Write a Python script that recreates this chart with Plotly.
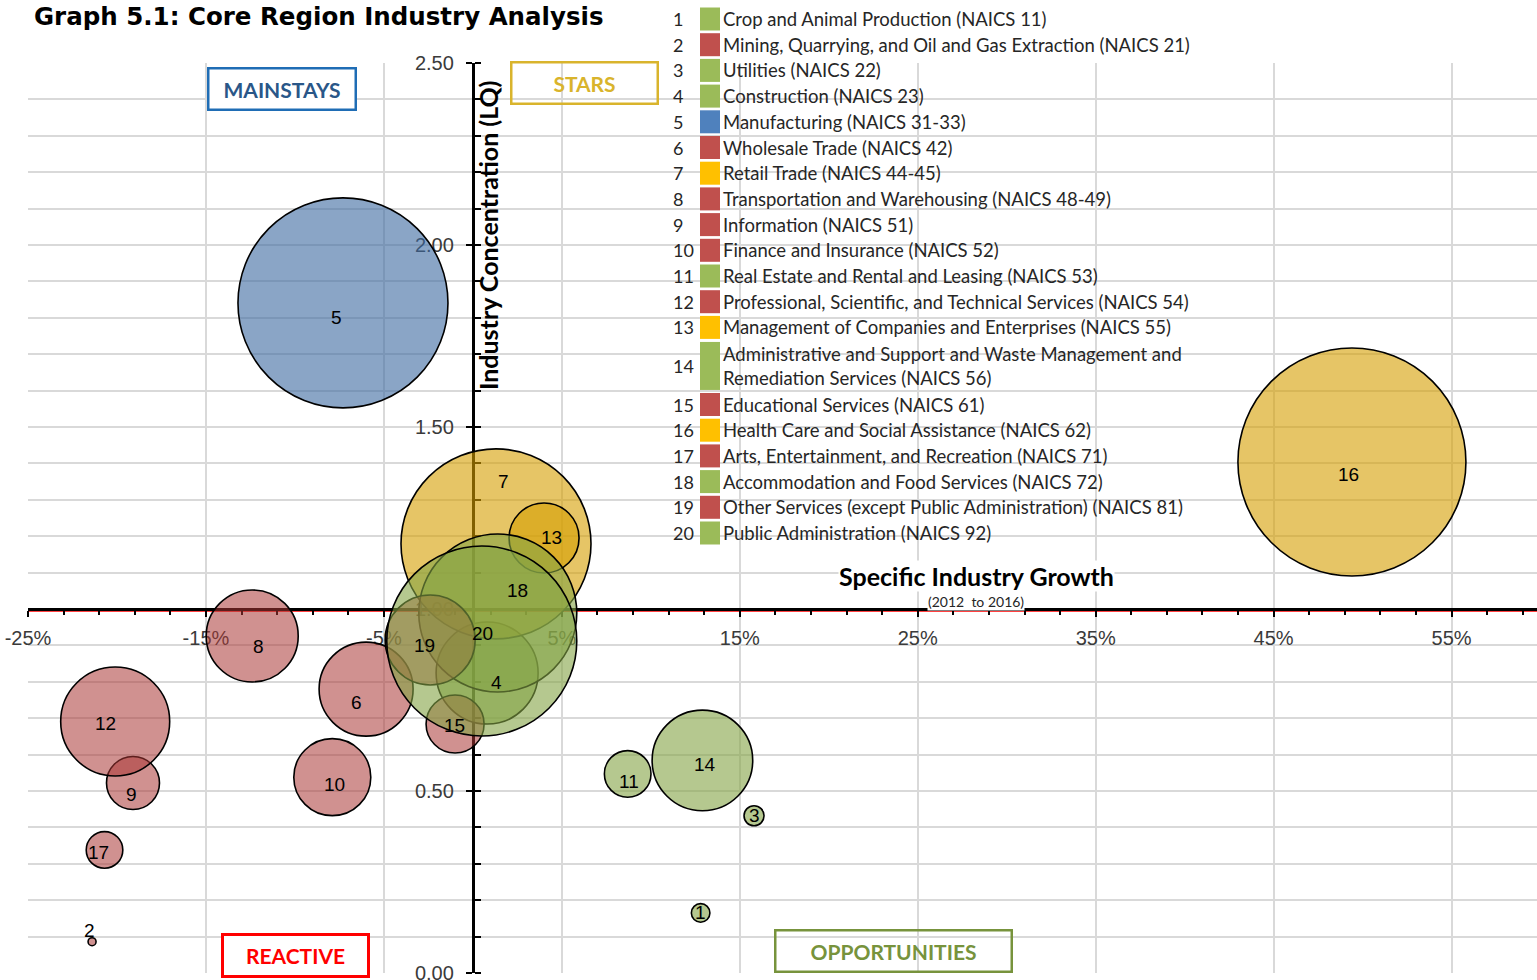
import plotly.graph_objects as go

# ---------------- data ----------------
industry_no = list(range(1, 21))
industries = [
    "Crop and Animal Production (NAICS 11)",
    "Mining, Quarrying, and Oil and Gas Extraction (NAICS 21)",
    "Utilities (NAICS 22)",
    "Construction (NAICS 23)",
    "Manufacturing (NAICS 31-33)",
    "Wholesale Trade (NAICS 42)",
    "Retail Trade (NAICS 44-45)",
    "Transportation and Warehousing (NAICS 48-49)",
    "Information (NAICS 51)",
    "Finance and Insurance (NAICS 52)",
    "Real Estate and Rental and Leasing (NAICS 53)",
    "Professional, Scientific, and Technical Services (NAICS 54)",
    "Management of Companies and Enterprises (NAICS 55)",
    "Administrative and Support and Waste Management and<br>Remediation Services (NAICS 56)",
    "Educational Services (NAICS 61)",
    "Health Care and Social Assistance (NAICS 62)",
    "Arts, Entertainment, and Recreation (NAICS 71)",
    "Accommodation and Food Services (NAICS 72)",
    "Other Services (except Public Administration) (NAICS 81)",
    "Public Administration (NAICS 92)",
]
# specific industry growth 2012-2016 (%)
growth_pct = [12.8, -21.4, 15.8, 0.8, -7.3, -6.0, 1.3, -12.4, -19.1, -7.9,
              8.7, -20.1, 4.0, 12.9, -1.0, 49.4, -20.7, 1.4, -2.4, 0.5]
# industry concentration (location quotient)
lq = [0.165, 0.086, 0.432, 0.824, 1.841, 0.780, 1.179, 0.926, 0.522, 0.538,
      0.547, 0.691, 1.195, 0.584, 0.684, 1.404, 0.338, 0.989, 0.915, 0.912]
# relative industry size (bubble area)
bubble_size = [86, 16, 100, 2601, 11025, 2209, 9025, 2116, 702, 1482,
               543, 2970, 1225, 2530, 841, 12996, 335, 6241, 2025, 9025]
quadrant = ["opp", "react", "opp", "opp", "main", "react", "star", "react", "react", "react",
            "opp", "react", "star", "opp", "react", "star", "react", "opp", "react", "opp"]

x_tickvals = [-25, -15, -5, 5, 15, 25, 35, 45, 55]
x_ticktext = ["-25%", "-15%", "-5%", "5%", "15%", "25%", "35%", "45%", "55%"]
y_tickvals = [0, 0.5, 1.0, 1.5, 2.0, 2.5]
y_ticktext = ["0.00", "0.50", "1.00", "1.50", "2.00", "2.50"]

# ---------------- styles ----------------
fill_colors = {"star": "rgba(214,158,0,0.6)", "opp": "rgba(132,163,68,0.6)",
               "react": "rgba(170,55,52,0.55)", "main": "rgba(60,105,160,0.6)"}
swatch_colors = {"star": "#FFC000", "opp": "#9BBB59", "react": "#C0504D", "main": "#4F81BD"}
# label pixel offsets relative to bubble centre (right, down)
label_dx = [0, -3, 0, 9, -6, -10, 7, 6, -1, 2, 1, -10, 7, 3, -1, -3, -6, 20, -6, 1]
label_dy = [0, -11, 0, 9, 15, 13, -62, 11, 12, 7, 8, 2, -1, 4, 1, 13, 3, -23, 6, -8]

W_PX, H_PX = 1537, 980
# plot area in page pixels
L, R, T, B = 28, 1537, 63, 973
X_RANGE = [-25, 59.8]
Y_RANGE = [0, 2.5]


def px(x):
    return (x - L) / (R - L)


def py(y):
    return (B - y) / (B - T)


fig = go.Figure()
fig.add_trace(go.Scatter(
    x=growth_pct, y=lq, mode="markers",
    marker=dict(size=bubble_size, sizemode="area", sizeref=0.5, opacity=1,
                color=[fill_colors[q] for q in quadrant],
                line=dict(color="black", width=1.6)),
    text=industries, hoverinfo="text+x+y", cliponaxis=False, showlegend=False,
))

annotations = []
for i, n in enumerate(industry_no):
    annotations.append(dict(x=growth_pct[i], y=lq[i], xref="x", yref="y", text=str(n),
                            showarrow=False, xanchor="center", yanchor="middle",
                            xshift=label_dx[i], yshift=-label_dy[i],
                            font=dict(family="Liberation Sans, Arial", size=19, color="black")))

shapes = []
# legend white panel
shapes.append(dict(type="rect", xref="paper", yref="paper", x0=px(670), x1=px(1222),
                   y0=py(547), y1=py(0), fillcolor="white", line=dict(width=0), layer="between"))
# LQ = 1 reference line
shapes.append(dict(type="line", xref="paper", x0=0, x1=1, yref="y", ysizemode="pixel",
                   yanchor=1.0, y0=-2, y1=-2, line=dict(color="red", width=1.5), layer="between"))

# legend rows
row0, step = 19, 25.7
for i, n in enumerate(industry_no):
    if n <= 13:
        k = n - 1
        half = 11.5
    elif n == 14:
        k = 13.5
        half = 24
    else:
        k = n
        half = 11.5
    yc = row0 + step * k
    shapes.append(dict(type="rect", xref="paper", yref="paper", x0=px(700), x1=px(720),
                       y0=py(yc + half), y1=py(yc - half),
                       fillcolor=swatch_colors[quadrant[i]], line=dict(width=0), layer="above"))
    annotations.append(dict(x=px(671), y=py(yc), xref="paper", yref="paper", text=str(n),
                            xanchor="left", yanchor="middle", showarrow=False,
                            font=dict(family="Lato", size=18, color="#262626")))
    annotations.append(dict(x=px(721), y=py(yc), xref="paper", yref="paper", text=industries[i],
                            xanchor="left", yanchor="middle", showarrow=False, align="left",
                            font=dict(family="Lato", size=18.5, color="#262626")))

# title
annotations.append(dict(x=px(33), y=py(1), xref="paper", yref="paper",
                        text="<b>Graph 5.1: Core Region Industry Analysis</b>",
                        xanchor="left", yanchor="top", showarrow=False, borderpad=0,
                        font=dict(family="DejaVu Sans", size=24.5, color="black")))
# axis titles
annotations.append(dict(x=px(976), y=py(576), xref="paper", yref="paper",
                        text="<b>Specific Industry Growth</b>", showarrow=False,
                        xanchor="center", yanchor="middle",
                        bgcolor="white", borderpad=0,
                        font=dict(family="Lato", size=25, color="black")))
annotations.append(dict(x=px(976), y=py(601), xref="paper", yref="paper",
                        text="(2012  to 2016)", showarrow=False, bgcolor="white", borderpad=0,
                        xanchor="center", yanchor="middle",
                        font=dict(family="Lato", size=14, color="#262626")))
annotations.append(dict(x=px(488), y=py(236), xref="paper", yref="paper",
                        text="<b>Industry Concentration (LQ)</b>", showarrow=False, textangle=-90,
                        xanchor="center", yanchor="middle",
                        font=dict(family="Lato", size=25, color="black")))

# quadrant boxes
boxes = [
    ("MAINSTAYS", 282, 89, 150, 44, "#2A5788", "#1F6DB5", 2.5, "white"),
    ("STARS", 584.5, 83, 149, 44, "#D9B42C", "#D9B42C", 2.5, "rgba(0,0,0,0)"),
    ("REACTIVE", 295.5, 955, 149, 45, "#FF0000", "#FF0000", 3, "white"),
    ("OPPORTUNITIES", 893.5, 951, 239, 44, "#77933C", "#77933C", 2.5, "rgba(0,0,0,0)"),
]
for txt, cx, cy, w, h, tc, bc, bw, bg in boxes:
    annotations.append(dict(x=px(cx), y=py(cy), xref="paper", yref="paper",
                            text="<b>" + txt + "</b>", showarrow=False,
                            xanchor="center", yanchor="middle",
                            width=w - 2 * bw, height=h - 2 * bw, borderpad=0,
                            bordercolor=bc, borderwidth=bw, bgcolor=bg,
                            font=dict(family="Lato", size=21, color=tc)))

fig.update_layout(
    width=W_PX, height=H_PX,
    margin=dict(l=L, r=W_PX - R, t=T, b=H_PX - B, pad=0, autoexpand=False),
    paper_bgcolor="white", plot_bgcolor="white",
    showlegend=False,
    xaxis=dict(range=X_RANGE, anchor="free",
               position=(1.0 - Y_RANGE[0]) / (Y_RANGE[1] - Y_RANGE[0]),
               showline=True, linecolor="black", linewidth=3,
               tickmode="array", tickvals=x_tickvals, ticktext=x_ticktext,
               ticks="outside", ticklen=6, tickwidth=2, tickcolor="black",
               ticklabelstandoff=4,
               showgrid=True, gridcolor="#D9D9D9", gridwidth=2, zeroline=False,
               minor=dict(tickmode="linear", tick0=-25, dtick=2, ticks="outside",
                          ticklen=4, tickwidth=2, tickcolor="black", showgrid=False),
               tickfont=dict(family="Liberation Sans, Arial", size=20, color="#3A3A3A"),
               layer="below traces"),
    yaxis=dict(range=Y_RANGE, anchor="free",
               position=(0 - X_RANGE[0]) / (X_RANGE[1] - X_RANGE[0]),
               showline=True, linecolor="black", linewidth=3,
               tickmode="array", tickvals=y_tickvals, ticktext=y_ticktext,
               ticks="outside", ticklen=6, tickwidth=2, tickcolor="black",
               ticklabelstandoff=8, ticklabeloverflow="allow",
               showgrid=True, gridcolor="#D9D9D9", gridwidth=2, zeroline=False,
               minor=dict(tickmode="linear", tick0=0, dtick=0.1, ticks="inside",
                          ticklen=6, tickwidth=2, tickcolor="black",
                          showgrid=True, gridcolor="#D9D9D9", gridwidth=2),
               tickfont=dict(family="Liberation Sans, Arial", size=20, color="#3A3A3A"),
               layer="below traces"),
    shapes=shapes,
    annotations=annotations,
)

# remove the default 8px page margin so the figure sits at the window's top-left corner
fig.write_html("out.html", config={"displayModeBar": False},
               post_script="document.body.style.margin='0';")
